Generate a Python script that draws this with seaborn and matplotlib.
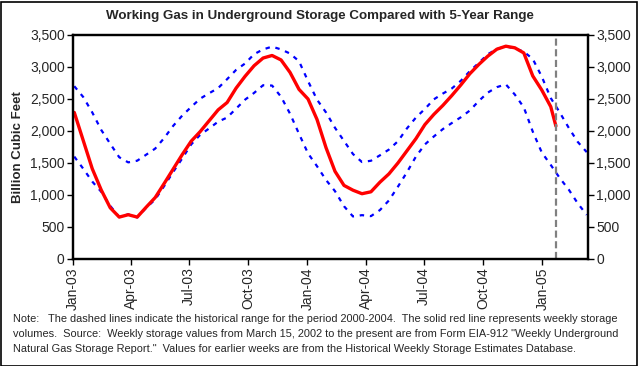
import matplotlib
matplotlib.use("Agg")
import matplotlib.pyplot as plt
import matplotlib.dates as mdates
from matplotlib.patches import Rectangle
import seaborn as sns
import pandas as pd
import numpy as np

# ---- data (Bcf), biweekly from 2003-01-03 ----
grid_start = "2003-01-03"
n_points = 58
upper_5yr = [2700, 2530, 2290, 2016, 1800, 1590, 1510, 1536, 1630, 1725,
             1890, 2080, 2240, 2375, 2505, 2590, 2670, 2810, 2955, 3055,
             3200, 3275, 3318, 3275, 3210, 3090, 2780, 2490, 2290, 2050,
             1845, 1640, 1515, 1535, 1620, 1710, 1840, 2040, 2210, 2345,
             2495, 2585, 2665, 2785, 2935, 3065, 3200, 3280, 3322, 3290,
             3240, 3125, 2850, 2515, 2290, 2050, 1830, 1670]
lower_5yr = [1600, 1410, 1210, 1050, 830, 655, 698, 650, 800, 930,
             1140, 1360, 1570, 1790, 1940, 2040, 2146, 2210, 2350, 2490,
             2595, 2715, 2710, 2535, 2270, 1955, 1650, 1450, 1235, 1060,
             825, 665, 685, 670, 765, 915, 1130, 1355, 1600, 1790,
             1915, 2030, 2125, 2215, 2320, 2470, 2600, 2685, 2729, 2570,
             2370, 1990, 1665, 1470, 1265, 1085, 870, 690]
storage = [2290, 1850, 1410, 1078, 800, 655, 692, 655, 810, 960,
           1180, 1405, 1630, 1840, 1990, 2160, 2330, 2445, 2670, 2855,
           3020, 3140, 3180, 3110, 2915, 2650, 2500, 2180, 1740, 1370,
           1150, 1075, 1020, 1050, 1200, 1330, 1500, 1690, 1880, 2100,
           2260, 2400, 2555, 2720, 2895, 3040, 3170, 3278, 3325, 3300,
           3220, 2860, 2640, 2380]
last_date = "2005-01-22"
last_storage = 2078

yticks = [0, 500, 1000, 1500, 2000, 2500, 3000, 3500]
title = "Working Gas in Underground Storage Compared with 5-Year Range"
ylabel = "Billion Cubic Feet"
note_lines = [
    "Note:   The dashed lines indicate the historical range for the period 2000-2004.  The solid red line represents weekly storage",
    "volumes.  Source:  Weekly storage values from March 15, 2002 to the present are from Form EIA-912 \"Weekly Underground",
    "Natural Gas Storage Report.\"  Values for earlier weeks are from the Historical Weekly Storage Estimates Database.",
]

dates = pd.date_range(grid_start, periods=n_points, freq="14D")
band = pd.DataFrame({"date": dates, "upper": upper_5yr, "lower": lower_5yr})
red = pd.DataFrame({"date": list(dates[:len(storage)]) + [pd.Timestamp(last_date)],
                    "value": storage + [last_storage]})

sns.set_style("white")
plt.rcParams["font.family"] = ["Liberation Sans", "DejaVu Sans"]

fig = plt.figure(figsize=(6.38, 3.66), dpi=100)
ax = fig.add_axes([73/638, 1-259/366, (588-73)/638, (259-35)/366])

dash = (0, (2.0, 2.6))
sns.lineplot(data=band, x="date", y="upper", ax=ax, color="#0000FF", lw=1.6, linestyle=dash)
sns.lineplot(data=band, x="date", y="lower", ax=ax, color="#0000FF", lw=1.6, linestyle=dash)
sns.lineplot(data=red, x="date", y="value", ax=ax, color="#FF0000", lw=2.4)
ax.axvline(pd.Timestamp(last_date), color="#808080", lw=1.6, linestyle=(0, (3.2, 1.6)), ymax=1.0)

ax.set_xlim(pd.Timestamp("2003-01-01"), pd.Timestamp("2005-03-13"))
ax.set_ylim(0, 3500)
ax.set_yticks(yticks)
ax.set_yticklabels([f"{v:,}" for v in yticks], fontsize=10)
ax.xaxis.set_major_locator(mdates.MonthLocator(bymonth=[1, 4, 7, 10]))
ax.xaxis.set_major_formatter(mdates.DateFormatter("%b-%y"))
for lab in ax.get_xticklabels():
    lab.set_rotation(90)
    lab.set_fontsize(10)
ax.set_xlabel("")
ax.set_ylabel(ylabel, fontsize=9.5, fontweight="bold", labelpad=4)
ax.tick_params(axis="both", direction="out", length=4, width=1, color="black", pad=2)
ax.tick_params(axis="both", which="both", bottom=True, left=True)
for s in ax.spines.values():
    s.set_visible(True)
    s.set_color("black")
    s.set_linewidth(1.6)

ax2 = ax.twinx()
ax2.set_ylim(0, 3500)
ax2.set_yticks(yticks)
ax2.set_yticklabels([f"{v:,}" for v in yticks], fontsize=10)
ax2.tick_params(axis="y", direction="out", length=4, width=1, color="black", pad=2, right=True)
for s in ax2.spines.values():
    s.set_linewidth(1.6)
    s.set_color("black")

fig.text(320/638, 1-16/366, title, ha="center", va="center", fontsize=9.6, fontweight="bold")
for i, line in enumerate(note_lines):
    fig.text(13/638, 1-(319+15*i)/366, line, ha="left", va="center", fontsize=7.9)

fig.patches.append(Rectangle((0.5/638, 0.5/366), 636/638, 364/366, transform=fig.transFigure,
                             fill=False, edgecolor="black", lw=1.2))

fig.savefig("out.png", dpi=100, facecolor="white")
